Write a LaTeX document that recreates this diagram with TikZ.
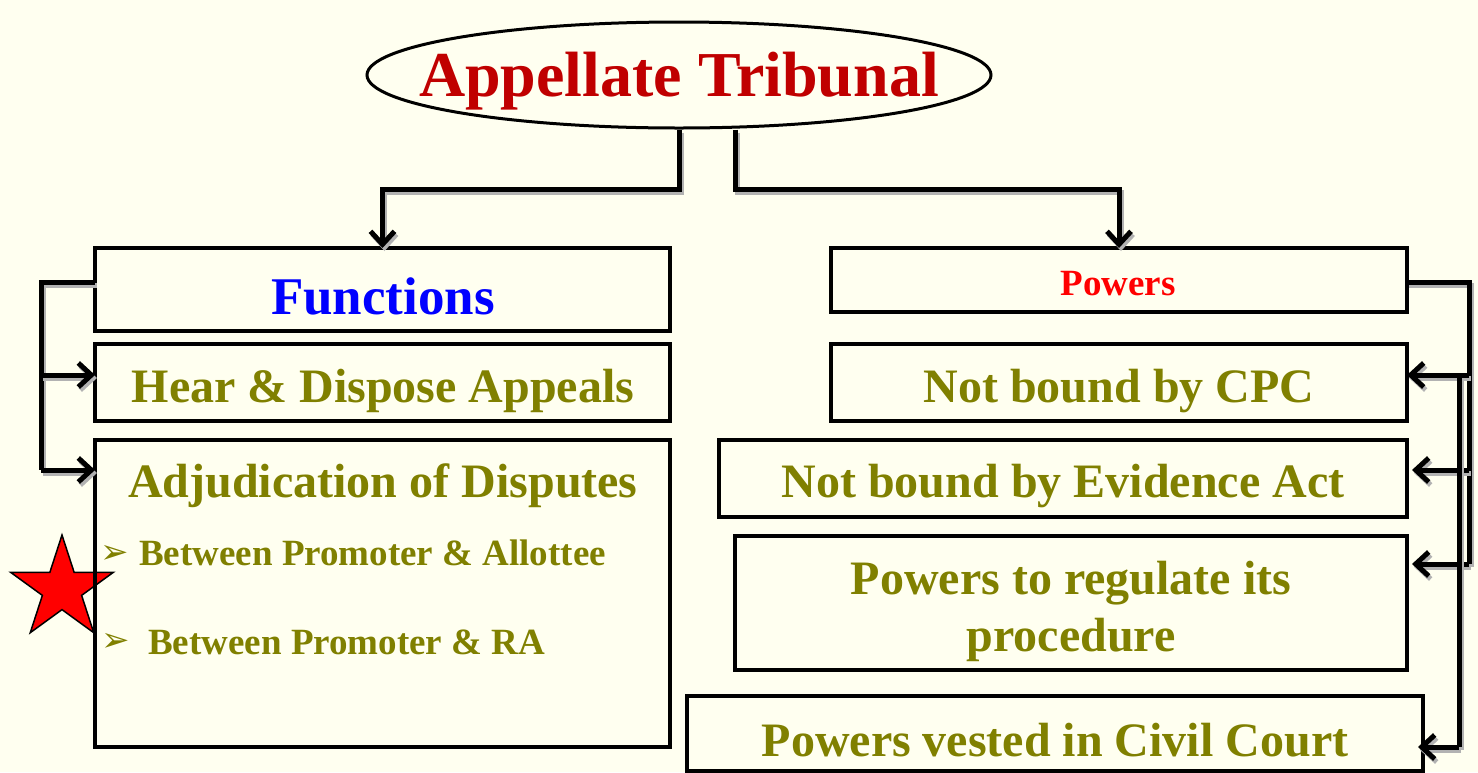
\documentclass[tikz,border=0pt]{standalone}
\usepackage{fontspec}
\setmainfont{Liberation Serif}
\newfontfamily\dejavu{DejaVu Sans}
\usetikzlibrary{shapes.geometric,arrows.meta,shadows}
\definecolor{bg}{RGB}{255,255,240}
\definecolor{olivetext}{RGB}{128,128,0}
\definecolor{titlered}{RGB}{192,0,0}
\begin{document}
\begin{tikzpicture}[x=1pt,y=-1pt,
  box/.style={draw=black, line width=3.5pt, fill=bg, inner sep=0pt, outer sep=0pt,
    drop shadow={shadow xshift=1.5pt, shadow yshift=-1.5pt, fill=black!40, opacity=1}},
  conn/.style={draw=black, line width=5pt,
    preaction={draw=black!30, line width=5pt, transform canvas={shift={(2pt,-3pt)}}}},
  arr/.style={conn, -{Straight Barb[length=13pt,width=24pt,line width=5pt]}},
  txt/.style={anchor=base, inner sep=0pt, font=\bfseries\fontsize{48}{52}\selectfont, text=olivetext},
  sub/.style={anchor=base west, inner sep=0pt, font=\bfseries\fontsize{37}{40}\selectfont, text=olivetext},
  bul/.style={anchor=west, inner sep=0pt, font=\dejavu\fontsize{34}{34}\selectfont, text=olivetext}
]
\fill[bg] (0,0) rectangle (1478,772);
\useasboundingbox (0,0) rectangle (1478,772);

% title ellipse
\node[ellipse, draw=black, line width=3pt, fill=bg, minimum width=624pt, minimum height=106pt, inner sep=0pt] (tri) at (679,75) {};
\node[anchor=base, inner sep=0pt, font=\bfseries\fontsize{64}{70}\selectfont, text=titlered] (tritxt) at (679,96) {Appellate Tribunal};

% left column boxes
\node[box, minimum width=575pt, minimum height=83pt] (fun) at (382.5,289.5) {};
\node[box, minimum width=575pt, minimum height=77pt] (hear) at (382.5,382.5) {};
\node[box, minimum width=575pt, minimum height=307pt] (adj) at (382.5,593.5) {};

% right column boxes
\node[box, minimum width=576pt, minimum height=64pt] (pow) at (1119,280) {};
\node[box, minimum width=576pt, minimum height=77pt] (cpc) at (1119,382.5) {};
\node[box, minimum width=688pt, minimum height=77pt] (evid) at (1063,478.5) {};
\node[box, minimum width=672pt, minimum height=134pt] (reg) at (1071,603) {};
\node[box, minimum width=736pt, minimum height=75pt] (civ) at (1055,733.5) {};

% texts
\node[anchor=base, inner sep=0pt, font=\bfseries\fontsize{53}{58}\selectfont, text=blue] (funtxt) at (383,314) {Functions};
\node[txt] (heartxt) at (383,402) {Hear \& Dispose Appeals};
\node[txt] (adjtxt) at (383,497) {Adjudication of Disputes};
\node[bul] (b1) at (100,554) {➢};
\node[sub] (s1) at (139,565) {Between Promoter \& Allottee};
\node[bul] (b2) at (101,642) {➢};
\node[sub] (s2) at (148,654) {Between Promoter \& RA};

\node[anchor=base, inner sep=0pt, font=\bfseries\fontsize{37}{40}\selectfont, text=red] (powtxt) at (1118,295) {Powers};
\node[txt] (cpctxt) at (1119,402) {Not bound by CPC};
\node[txt] (evidtxt) at (1063,497) {Not bound by Evidence Act};
\node[txt] (regtxt1) at (1071,594) {Powers to regulate its};
\node[txt] (regtxt2) at (1071,651) {procedure};
\node[txt] (civtxt) at (1055,756) {Powers vested in Civil Court};

% star
\node[star, star points=5, star point ratio=2.618, minimum size=108pt, inner sep=0pt, fill=red, draw=black, line width=1.5pt] (star) at (62,589) {};
\draw[line width=3.5pt] (adj.north west) -- (adj.south west);

% top connectors
\draw[arr] (tri.south) -- ++(0,60) -| (fun.north);
\draw[arr] ([xshift=56pt]tri.south) -- ++(0,60) -| (pow.north);

% left bracket
\coordinate (L1) at (41,282);
\coordinate (L2) at (41,375);
\coordinate (L3) at (41,470);
\draw[conn] (fun.west |- L1) -- (L1) -- (L3);
\draw[arr] (L2) -- (hear.west |- L2);
\draw[arr] (L3) -- (adj.west |- L3);

% right bracket
\coordinate (R1) at (1469,282);
\coordinate (R2) at (1469,375);
\coordinate (R3) at (1469,470);
\coordinate (R4) at (1469,564);
\coordinate (S1) at (1459,375);
\coordinate (S2) at (1459,747);
\coordinate (T3) at (1412,470);
\coordinate (T4) at (1412,564);
\coordinate (T5) at (1418,747);
\draw[conn] (pow.east |- R1) -- (R1) -- (R4);
\draw[arr] (R2) -- (cpc.east |- R2);
\draw[arr] (R3) -- (T3);
\draw[arr] (R4) -- (T4);
\draw[conn] (S1) -- (S2);
\draw[arr] (S2) -- (T5);
\end{tikzpicture}
\end{document}
